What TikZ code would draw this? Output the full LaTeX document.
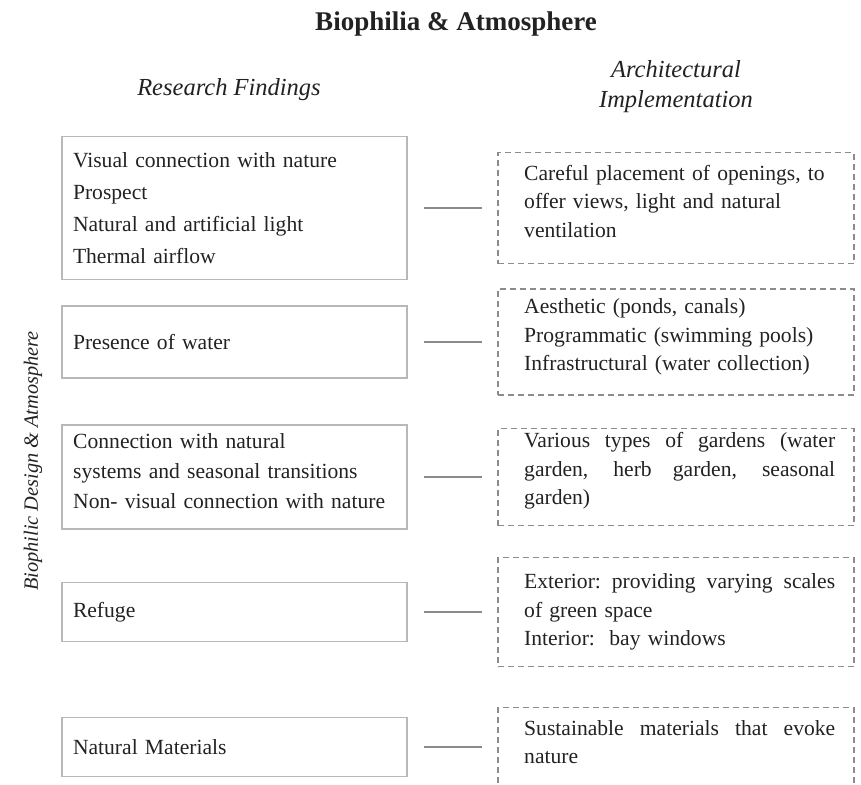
\documentclass[tikz,border=0pt]{standalone}
\usepackage{fontspec}
\setmainfont{Liberation Serif}
\definecolor{ink}{HTML}{222222}
\definecolor{boxgray}{HTML}{B8B8B8}
\definecolor{dashgray}{HTML}{8C8C8C}
\definecolor{linegray}{HTML}{8A8A8A}
% a line set flush to both margins of the implementation column
\newcommand\jline[1]{\makebox[311pt][s]{\spaceskip=\fontdimen2\font plus 1fil\relax #1}}
\begin{document}
\begin{tikzpicture}[x=1pt, y=-1pt,
  lbox/.style={draw=boxgray, line width=1.1pt, minimum width=345pt,
    inner xsep=11pt, inner ysep=0pt, text width=323pt, align=left, text=ink,
    font=\fontsize{21.6}{32}\selectfont},
  ltext/.style={anchor=west, text width=323pt, align=left, inner sep=0pt,
    text=ink, font=\fontsize{21.6}{30}\selectfont},
  rbox/.style={draw=dashgray, line width=1.1pt, dash pattern=on 6pt off 4pt,
    minimum width=356pt, inner sep=0pt},
  rtext/.style={anchor=west, text width=311pt, align=left, inner sep=0pt,
    text=ink, font=\fontsize{21.6}{28.5}\selectfont},
  conn/.style={draw=linegray, line width=1.5pt, shorten <=16pt, shorten >=15pt},
  head/.style={text=ink, font=\itshape\fontsize{24.5}{30}\selectfont, align=center}
]
\useasboundingbox (0,0) rectangle (861,784);
\clip (0,0) rectangle (861,784);

% titles
\node[text=ink, font=\bfseries\fontsize{27}{30}\selectfont] (title) at (456,24) {Biophilia \& Atmosphere};
\node[head] (hleft) at (229,90) {Research Findings};
\node[head] (hright) at (676,87) {Architectural\\Implementation};
\node[rotate=90, text=ink, font=\itshape\fontsize{20.3}{24}\selectfont] (side) at (33,461) {Biophilic Design \& Atmosphere};

% research findings
\node[lbox, minimum height=143pt] (f1) at (234.5,208)
  {Visual connection with nature\\Prospect\\Natural and artificial light\\Thermal airflow};
\node[lbox, minimum height=72pt] (f2) at (234.5,342) {Presence of water};
\node[lbox, minimum height=104pt] (f3) at (234.5,477) {};
\node[ltext] (f3t) at (73,471)
  {Connection with natural\\systems and seasonal transitions\\Non- visual connection with nature};
\node[lbox, minimum height=59pt] (f4) at (234.5,612) {Refuge};
\node[lbox, minimum height=59pt] (f5) at (234.5,747) {Natural Materials};

% architectural implementation
\node[rbox, minimum height=111pt] (i1) at (676,208) {};
\node[rbox, minimum height=106pt] (i2) at (676,342) {};
\node[rbox, minimum height=97pt] (i3) at (676,477) {};
\node[rbox, minimum height=109pt] (i4) at (676,612) {};
\node[rbox, minimum height=79pt] (i5) at (676,747) {};

\node[rtext] (t1) at (524,201)
  {Careful placement of openings, to\\offer views, light and natural\\ventilation};
\node[rtext] (t2) at (524,337)
  {Aesthetic (ponds, canals)\\Programmatic (swimming pools)\\Infrastructural (water collection)};
\node[rtext] (t3) at (524,471)
  {\jline{Various types of gardens (water}\\\jline{garden, herb garden, seasonal}\\garden)};
\node[rtext] (t4) at (524,612)
  {\jline{Exterior: providing varying scales}\\of green space\\Interior:\ \ bay windows};
\node[rtext] (t5) at (524,742)
  {\jline{Sustainable materials that evoke}\\nature};

% connectors
\foreach \k in {1,...,5}
  \draw[conn] (f\k.east) -- (i\k.west);
\end{tikzpicture}
\end{document}
